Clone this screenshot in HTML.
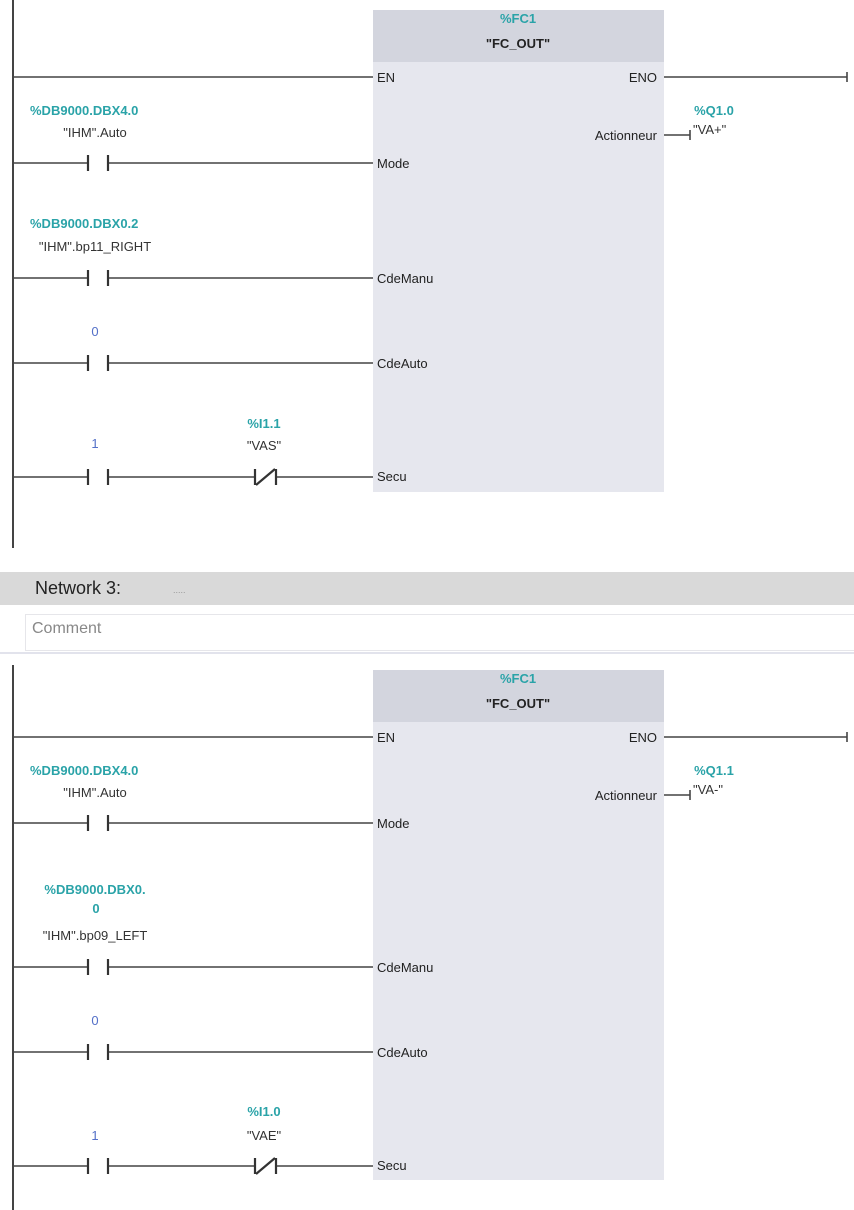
<!DOCTYPE html>
<html><head><meta charset="utf-8"><style>
html,body{margin:0;padding:0;background:#fff;width:854px;height:1210px;overflow:hidden}
svg{display:block}
text{font-family:"Liberation Sans",sans-serif;font-size:13px}
.t{fill:#2aa3a8;font-weight:bold}
.b{fill:#5470c8}
.k{fill:#333}
.p{fill:#222}
</style></head><body>
<svg width="854" height="1210" viewBox="0 0 854 1210">
<defs>
<g id="hdr">
  <g stroke="#444" stroke-width="1.6" fill="none">
    <line x1="13" y1="77" x2="373" y2="77"/>
    <line x1="664" y1="77" x2="847" y2="77"/>
    <line x1="847" y1="72" x2="847" y2="82"/>
    <line x1="664" y1="135" x2="690" y2="135"/>
    <line x1="690" y1="130" x2="690" y2="140"/>
  </g>
  <rect x="373" y="10" width="291" height="52" fill="#d3d5de"/>
  <text class="t" x="518" y="23" text-anchor="middle">%FC1</text>
  <text class="p" x="518" y="48" text-anchor="middle" font-weight="bold">"FC_OUT"</text>
  <text class="p" x="377" y="82">EN</text>
  <text class="p" x="657" y="82" text-anchor="end">ENO</text>
  <text class="p" x="657" y="140" text-anchor="end">Actionneur</text>
</g>
<g id="no">
  <g stroke="#444" stroke-width="1.6"><line x1="13" y1="0" x2="88" y2="0"/><line x1="108" y1="0" x2="373" y2="0"/></g>
  <g stroke="#333" stroke-width="2.2"><line x1="88" y1="-8" x2="88" y2="8"/><line x1="108" y1="-8" x2="108" y2="8"/></g>
</g>
<g id="nc">
  <rect x="254" y="-9" width="23" height="18" fill="#fff"/>
  <g stroke="#333" stroke-width="2.2"><line x1="255" y1="-8" x2="255" y2="8"/><line x1="276" y1="-8" x2="276" y2="8"/><line x1="256" y1="8" x2="275" y2="-8"/></g>
</g>
</defs>

<!-- Network 2 -->
<line x1="13" y1="0" x2="13" y2="548" stroke="#444" stroke-width="2"/>
<rect x="373" y="10" width="291" height="482" fill="#e6e7ee"/>
<use href="#hdr"/>
<use href="#no" y="163"/><text class="p" x="377" y="168">Mode</text>
<use href="#no" y="278"/><text class="p" x="377" y="283">CdeManu</text>
<use href="#no" y="363"/><text class="p" x="377" y="368">CdeAuto</text>
<use href="#no" y="477"/><use href="#nc" y="477"/><text class="p" x="377" y="481">Secu</text>
<text class="b" x="95" y="336" text-anchor="middle">0</text>
<text class="b" x="95" y="448" text-anchor="middle">1</text>
<text class="t" x="30" y="115">%DB9000.DBX4.0</text>
<text class="k" x="95" y="137" text-anchor="middle">"IHM".Auto</text>
<text class="t" x="30" y="228">%DB9000.DBX0.2</text>
<text class="k" x="95" y="251" text-anchor="middle">"IHM".bp11_RIGHT</text>
<text class="t" x="264" y="428" text-anchor="middle">%I1.1</text>
<text class="k" x="264" y="450" text-anchor="middle">"VAS"</text>
<text class="t" x="714" y="115" text-anchor="middle">%Q1.0</text>
<text class="k" x="693" y="134">"VA+"</text>

<!-- Network 3 header -->
<rect x="0" y="572" width="854" height="33" fill="#d9d9d9"/>
<text x="35" y="594" style="font-size:18px;fill:#222">Network 3:</text>
<text x="173" y="593" style="font-size:9px;fill:#999">.....</text>
<rect x="25.5" y="614.5" width="829" height="36" fill="#fff" stroke="#e6e6ea"/>
<text x="32" y="633" style="font-size:16px;fill:#888">Comment</text>
<line x1="0" y1="653" x2="854" y2="653" stroke="#d8dae6" stroke-width="1.5"/>

<!-- Network 3 -->
<line x1="13" y1="665" x2="13" y2="1210" stroke="#444" stroke-width="2"/>
<rect x="373" y="670" width="291" height="510" fill="#e6e7ee"/>
<use href="#hdr" y="660"/>
<use href="#no" y="823"/><text class="p" x="377" y="828">Mode</text>
<use href="#no" y="967"/><text class="p" x="377" y="972">CdeManu</text>
<use href="#no" y="1052"/><text class="p" x="377" y="1057">CdeAuto</text>
<use href="#no" y="1166"/><use href="#nc" y="1166"/><text class="p" x="377" y="1170">Secu</text>
<text class="t" x="30" y="775">%DB9000.DBX4.0</text>
<text class="k" x="95" y="797" text-anchor="middle">"IHM".Auto</text>
<text class="t" x="95" y="894" text-anchor="middle">%DB9000.DBX0.</text>
<text class="t" x="96" y="913" text-anchor="middle">0</text>
<text class="k" x="95" y="940" text-anchor="middle">"IHM".bp09_LEFT</text>
<text class="b" x="95" y="1025" text-anchor="middle">0</text>
<text class="b" x="95" y="1140" text-anchor="middle">1</text>
<text class="t" x="264" y="1116" text-anchor="middle">%I1.0</text>
<text class="k" x="264" y="1140" text-anchor="middle">"VAE"</text>
<text class="t" x="714" y="775" text-anchor="middle">%Q1.1</text>
<text class="k" x="693" y="794">"VA-"</text>
</svg>
</body></html>
